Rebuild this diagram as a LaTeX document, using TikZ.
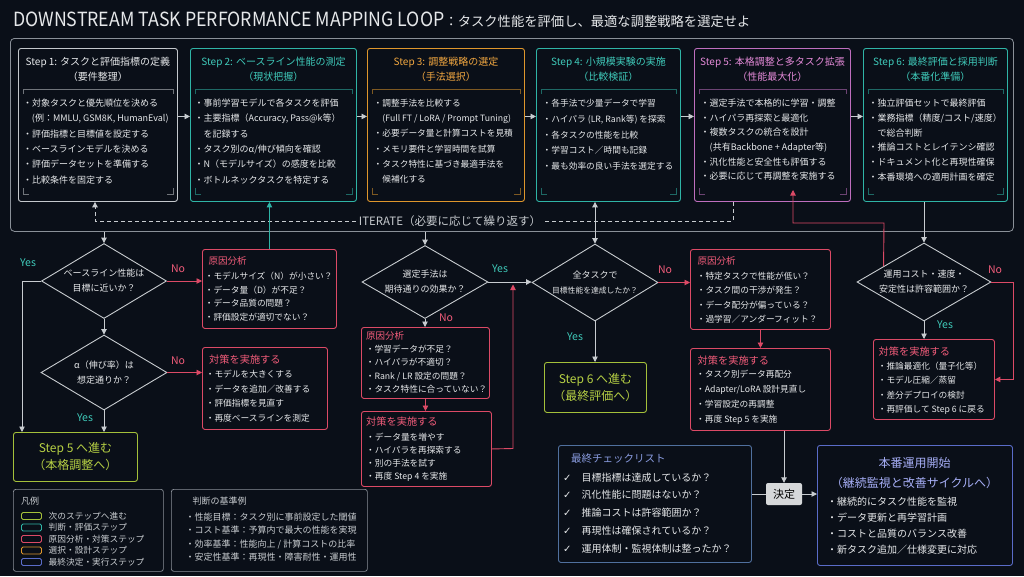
\documentclass[tikz,border=0pt]{standalone}
\usepackage{fontspec}
\usepackage{graphicx}
\setmainfont{Noto Sans CJK JP}
\newfontfamily\dejavu{DejaVu Sans}
\usetikzlibrary{shapes.geometric,arrows.meta,calc}
\definecolor{bg}{HTML}{0A0F18}
\definecolor{frm}{HTML}{8A9098}
\definecolor{sgray}{HTML}{C4C8CC}
\definecolor{txt}{HTML}{E6E8EA}
\definecolor{ltxt}{HTML}{C8CCD0}
\definecolor{tl}{HTML}{2FB4A6}
\definecolor{tlt}{HTML}{3FCABA}
\definecolor{org}{HTML}{DE962C}
\definecolor{orgt}{HTML}{F0A640}
\definecolor{pk}{HTML}{DC4A66}
\definecolor{pkt}{HTML}{F25C7A}
\definecolor{lav}{HTML}{BE6EBE}
\definecolor{lavt}{HTML}{E48AD8}
\definecolor{grn}{HTML}{A4C03A}
\definecolor{grnt}{HTML}{B6D044}
\definecolor{blu}{HTML}{5A6CC8}
\definecolor{blut}{HTML}{A6AEF6}
\definecolor{chk}{HTML}{50709E}
\definecolor{chkt}{HTML}{8A9CE0}
\definecolor{arrc}{HTML}{C8CCD0}
\definecolor{ktc}{HTML}{D6D8DA}
\newcommand\myfs[2]{\fontsize{#1}{#2}\selectfont}
\newcommand\stepbrk[2]{%
 \draw[#2, line width=0.5pt, opacity=0.55] ($(#1.north west)+(5,46)$) -- ($(#1.north west)+(5,41)$) -- ($(#1.north east)+(-5,41)$) -- ($(#1.north east)+(-5,46)$);
 \draw[#2, line width=0.5pt, opacity=0.55] ($(#1.south west)+(5,-14)$) -- ($(#1.south west)+(5,-8)$) -- ($(#1.south west)+(11,-8)$);
 \draw[#2, line width=0.5pt, opacity=0.55] ($(#1.south east)+(-5,-14)$) -- ($(#1.south east)+(-5,-8)$) -- ($(#1.south east)+(-11,-8)$);
}
\tikzset{
 box/.style={draw, line width=0.9pt, rounded corners=2.5pt, anchor=north west, inner sep=0pt, fill=bg},
 hdr/.style={align=center, inner sep=0pt, font=\myfs{10}{15}},
 body/.style={anchor=north west, align=left, inner sep=0pt, text=txt, font=\myfs{9}{15.3}},
 bbody/.style={anchor=north west, align=left, inner sep=0pt, text=txt},
 bhdr/.style={anchor=west, inner sep=0pt, text=pkt, font=\myfs{9.5}{12}},
 thdr/.style={anchor=west, inner sep=0pt, text=pkt, font=\myfs{10.2}{12}},
 dia/.style={diamond, draw=arrc, line width=0.9pt, inner sep=0pt, fill=bg},
 dtext/.style={align=center, inner sep=0pt, text=txt, font=\myfs{9}{15}},
 ga/.style={draw=arrc, line width=0.9pt, -{Triangle[width=5.5pt,length=5.5pt]}},
 pa/.style={draw=pk, line width=0.9pt, -{Triangle[width=5.5pt,length=5.5pt]}},
 yes/.style={inner sep=0pt, text=tlt, font=\myfs{10.5}{12}},
 no/.style={inner sep=0pt, text=pkt, font=\myfs{10.5}{12}},
 gotext/.style={align=center, inner sep=0pt, text=grnt, font=\myfs{12}{17}},
 lgsw/.style={line width=0.9pt, rounded corners=1.5pt, minimum width=20pt, minimum height=7pt, inner sep=0pt, draw},
 lgtx/.style={anchor=west, inner sep=0pt, text=ltxt, font=\myfs{8.7}{10}},
}
\begin{document}
\begin{tikzpicture}[x=1pt,y=-1pt]
\fill[bg] (0,0) rectangle (1024,576);
\useasboundingbox (0,0) rectangle (1024,576);

% title
\node[anchor=west, inner sep=0pt, text=txt] (title) at (13,20) {\scalebox{0.91}[1]{\myfs{19.5}{22}DOWNSTREAM TASK PERFORMANCE MAPPING LOOP}\myfs{13.3}{22}：タスク性能を評価し、最適な調整戦略を選定せよ};

% outer frame
\node[draw=frm, line width=0.8pt, rounded corners=4pt, anchor=north west, inner sep=0pt, minimum width=1003pt, minimum height=193pt] (frame) at (10,38) {};

% step boxes
\node[box, draw=sgray, minimum width=159pt, minimum height=153pt] (s1) at (18,48) {};
\node[box, draw=tl, minimum width=166pt, minimum height=153pt] (s2) at (190,48) {};
\node[box, draw=org, minimum width=157pt, minimum height=153pt] (s3) at (367,48) {};
\node[box, draw=tl, minimum width=144pt, minimum height=153pt] (s4) at (536,48) {};
\node[box, draw=lav, minimum width=156pt, minimum height=153pt] (s5) at (694,48) {};
\node[box, draw=tl, minimum width=144pt, minimum height=153pt] (s6) at (863,48) {};
\stepbrk{s1}{sgray}
\stepbrk{s2}{tl}
\stepbrk{s3}{org}
\stepbrk{s4}{tl}
\stepbrk{s5}{lav}
\stepbrk{s6}{tl}

\node[hdr, text=txt] (s1h) at ($(s1.north)+(0,21.5)$) {Step 1: タスクと評価指標の定義\\（要件整理）};
\node[hdr, text=tlt] (s2h) at ($(s2.north)+(0,21.5)$) {Step 2: ベースライン性能の測定\\（現状把握）};
\node[hdr, text=orgt] (s3h) at ($(s3.north)+(0,21.5)$) {Step 3: 調整戦略の選定\\（手法選択）};
\node[hdr, text=tlt] (s4h) at ($(s4.north)+(0,21.5)$) {Step 4: 小規模実験の実施\\（比較検証）};
\node[hdr, text=lavt] (s5h) at ($(s5.north)+(0,21.5)$) {Step 5: 本格調整と多タスク拡張\\（性能最大化）};
\node[hdr, text=tlt] (s6h) at ($(s6.north)+(0,21.5)$) {Step 6: 最終評価と採用判断\\（本番化準備）};

\node[body] (s1b) at (22.8,98.8) {・対象タスクと優先順位を決める\\\hspace*{9pt}(例：MMLU, GSM8K, HumanEval)\\・評価指標と目標値を設定する\\・ベースラインモデルを決める\\・評価データセットを準備する\\・比較条件を固定する};
\node[body] (s2b) at (194.5,98.8) {・事前学習モデルで各タスクを評価\\・主要指標（Accuracy, Pass@k等）\\\hspace*{9pt}を記録する\\・タスク別のα/伸び傾向を確認\\・N（モデルサイズ）の感度を比較\\・ボトルネックタスクを特定する};
\node[body, font=\myfs{8.7}{15.3}] (s3b) at (373.5,98.8) {・調整手法を比較する\\\hspace*{8.7pt}(Full FT / LoRA / Prompt Tuning)\\・必要データ量と計算コストを見積\\・メモリ要件と学習時間を試算\\・タスク特性に基づき最適手法を\\\hspace*{8.7pt}候補化する};
\node[body, font=\myfs{8.7}{15.8}] (s4b) at (542.5,98.8) {・各手法で少量データで学習\\・ハイパラ (LR, Rank等) を探索\\・各タスクの性能を比較\\・学習コスト／時間も記録\\・最も効率の良い手法を選定する};
\node[body, font=\myfs{9}{14.6}] (s5b) at (700.5,98.8) {・選定手法で本格的に学習・調整\\・ハイパラ再探索と最適化\\・複数タスクの統合を設計\\\hspace*{9pt}(共有Backbone + Adapter等)\\・汎化性能と安全性も評価する\\・必要に応じて再調整を実施する};
\node[body, font=\myfs{9}{14.8}] (s6b) at (868.5,98.8) {・独立評価セットで最終評価\\・業務指標（精度/コスト/速度）\\\hspace*{9pt}で総合判断\\・推論コストとレイテンシ確認\\・ドキュメント化と再現性確保\\・本番環境への適用計画を確定};

\foreach \a/\b in {s1/s2,s2/s3,s3/s4,s4/s5,s5/s6}
  \draw[ga] ([yshift=8.5pt]\a.east) -- ([yshift=8.5pt]\b.west);

% iterate loop
\node[fill=bg, inner sep=3pt, text=ltxt, font=\myfs{11.5}{14}] (iter) at (450,221) {ITERATE（必要に応じて繰り返す）};
\coordinate (it1) at (733,221);
\coordinate (it2) at (95,221);
\draw[arrc, line width=0.9pt, dash pattern=on 4pt off 3pt] (s5.south -| it1) -- (it1) -- (iter.east);
\draw[arrc, line width=0.9pt, dash pattern=on 4pt off 3pt, -{Triangle[width=5.5pt,length=5.5pt]}] (iter.west) -- (it2) -- (s1.south -| it2);

% diamonds
\node[dia, minimum width=125pt, minimum height=75pt] (d1) at (104,281) {};
\node[dtext] (d1t) at (d1) {ベースライン性能は\\目標に近いか？};
\node[dia, minimum width=126pt, minimum height=75pt] (d2) at (104,372.5) {};
\node[dtext] (d2t) at (d2) {α（伸び率）は\\想定通りか？};
\node[dia, minimum width=126pt, minimum height=73pt] (d3) at (425,282) {};
\node[dtext] (d3t) at (d3) {選定手法は\\期待通りの効果か？};
\node[dia, minimum width=126pt, minimum height=77pt] (d4) at (595,282.5) {};
\node[dtext] (d4t) at (d4) {全タスクで\\{\myfs{7.8}{15}目標性能を達成したか？}};
\node[dia, minimum width=134pt, minimum height=78pt] (d5) at (924,282) {};
\node[dtext] (d5t) at (d5) {運用コスト・速度・\\安定性は許容範囲か？};

% red boxes
\node[box, draw=pk, minimum width=134pt, minimum height=79pt] (b1) at (202,249) {};
\node[bhdr] (b1h) at (208.5,261) {原因分析};
\node[bbody, font=\myfs{8.7}{13.5}] (b1b) at (204.6,271.9) {・モデルサイズ（N）が小さい？\\・データ量（D）が不足？\\・データ品質の問題？\\・評価設定が適切でない？};

\node[box, draw=pk, minimum width=125pt, minimum height=82pt] (b2) at (202,347) {};
\node[thdr] (b2h) at (209,360) {対策を実施する};
\node[bbody, font=\myfs{8.7}{14.6}] (b2b) at (205.6,369.9) {・モデルを大きくする\\・データを追加／改善する\\・評価指標を見直す\\・再度ベースラインを測定};

\node[box, draw=pk, minimum width=128pt, minimum height=71pt] (b3) at (361,327) {};
\node[bhdr] (b3h) at (366,336) {原因分析};
\node[bbody, font=\myfs{8.7}{13.3}] (b3b) at (365.6,344.9) {・学習データが不足？\\・ハイパラが不適切？\\・Rank / LR 設定の問題？\\・タスク特性に合っていない？};

\node[box, draw=pk, minimum width=130pt, minimum height=75pt] (b4) at (361,411) {};
\node[thdr] (b4h) at (366,422) {対策を実施する};
\node[bbody, font=\myfs{8.7}{13}] (b4b) at (366,432.9) {・データ量を増やす\\・ハイパラを再探索する\\・別の手法を試す\\・再度 Step 4 を実施};

\node[box, draw=pk, minimum width=140pt, minimum height=80pt] (b5) at (690,249) {};
\node[bhdr] (b5h) at (697.5,261) {原因分析};
\node[bbody, font=\myfs{8.7}{14.3}] (b5b) at (696.6,271.9) {・特定タスクで性能が低い？\\・タスク間の干渉が発生？\\・データ配分が偏っている？\\・過学習／アンダーフィット？};

\node[box, draw=pk, minimum width=140pt, minimum height=82pt] (b6) at (690,348) {};
\node[thdr] (b6h) at (697.5,361) {対策を実施する};
\node[bbody, font=\myfs{8.7}{15}] (b6b) at (696,369.9) {・タスク別データ再配分\\・Adapter/LoRA 設計見直し\\・学習設定の再調整\\・再度 Step 5 を実施};

\node[box, draw=pk, minimum width=121pt, minimum height=80pt] (b7) at (873,339) {};
\node[thdr] (b7h) at (878.5,352) {対策を実施する};
\node[bbody, font=\myfs{8.7}{14.3}] (b7b) at (877.6,361.9) {・推論最適化（量子化等）\\・モデル圧縮／蒸留\\・差分デプロイの検討\\・再評価して Step 6 に戻る};

% go boxes
\node[box, draw=grn, minimum width=124pt, minimum height=49pt] (g1) at (13,432) {};
\node[gotext] (g1t) at (g1.center) {Step 5 へ進む\\（本格調整へ）};
\node[box, draw=grn, minimum width=102pt, minimum height=50pt] (g2) at (544,362) {};
\node[gotext] (g2t) at (g2.center) {Step 6 へ進む\\（最終評価へ）};

% connectors
\draw[ga] (frame.south -| d1.north) -- (d1.north);
\draw[ga] (frame.south -| d3.north) -- (d3.north);
\draw[draw=arrc, line width=0.9pt, {Triangle[width=5.5pt,length=5.5pt]}-{Triangle[width=5.5pt,length=5.5pt]}] (s4.south -| d4.north) -- (d4.north);
\draw[ga] (s6.south -| d5.north) -- (d5.north);

\draw[pa] (d1.east) -- (d1.east -| b1.west);
\draw[draw=tl, line width=0.9pt, -{Triangle[width=5.5pt,length=5.5pt]}] (b1.north) -- (b1.north |- s2.south);
\coordinate (c22) at (22,281);
\draw[ga] (d1.west) -- (c22) -- (c22 |- g1.north);
\draw[ga] (d1.south) -- (d2.north);
\draw[pa] (d2.east) -- (d2.east -| b2.west);
\draw[ga] (d2.south) -- (d2.south |- g1.north);

\draw[ga] (d3.east) -- (d3.east -| d4.west);
\draw[ga] (d3.south) -- (d3.south |- b3.north);
\draw[pa] (b3.south) -- (b3.south |- b4.north);
\coordinate (r4) at (513,448.5);
\coordinate (r4t) at (513,284.5);
\draw[pa] (b4.east) -- (r4) -- (r4t);

\draw[pa] (d4.east) -- (d4.east -| b5.west);
\draw[ga] (d4.south) -- (d4.south |- g2.north);
\draw[pa] (b5.south) -- (b5.south |- b6.north);

\coordinate (r5a) at (884,223);
\coordinate (r5b) at (793,223);
\coordinate (r5c) at (793,190);
\draw[pa] ($(d5.west)!0.4!(d5.north)$) -- (r5a) -- (r5b) -- (r5c);
\coordinate (r7) at (1013,282);
\draw[pa] (d5.east) -- (r7) |- (b7.east);
\draw[ga] (d5.south) -- (d5.south |- b7.north);

% labels
\node[yes] (y1) at (28,263) {Yes};
\node[no] (n1) at (178,269) {No};
\node[no] (n2) at (178,361) {No};
\node[yes] (y2) at (85,418) {Yes};
\node[yes] (y3) at (500,269) {Yes};
\node[no] (n3) at (446,318) {No};
\node[no] (n4) at (665,270) {No};
\node[yes] (y4) at (575,337) {Yes};
\node[no] (n5) at (995,270) {No};
\node[yes] (y5) at (945,325) {Yes};

% checklist
\node[box, draw=chk, minimum width=193pt, minimum height=117pt] (ck) at (558,445) {};
\node[anchor=west, inner sep=0pt, text=chkt, font=\myfs{10.5}{12}] (ckh) at (571,459) {最終チェックリスト};
\node[bbody, font=\myfs{10}{17.75}] (ckb) at (563,472.5) {{\dejavu ✓}\hspace{10pt}目標指標は達成しているか？\\{\dejavu ✓}\hspace{10pt}汎化性能に問題はないか？\\{\dejavu ✓}\hspace{10pt}推論コストは許容範囲か？\\{\dejavu ✓}\hspace{10pt}再現性は確保されているか？\\{\dejavu ✓}\hspace{10pt}運用体制・監視体制は整ったか？};

% decision
\node[fill=ktc, rounded corners=2pt, minimum width=36pt, minimum height=22pt, inner sep=0pt, text=black, font=\myfs{11}{13}] (kd) at (784,494) {決定};
\draw[draw=arrc, line width=0.9pt] (kd.west -| ck.east) -- (kd.west);
\draw[ga] (b6.south -| kd.north) -- (kd.north);

% production
\node[box, draw=blu, minimum width=195pt, minimum height=120pt] (pr) at (817,445) {};
\node[align=center, inner sep=0pt, text=blut, font=\myfs{12}{20}] (prh) at (914.5,473) {本番運用開始\\（継続監視と改善サイクルへ）};
\node[bbody, font=\myfs{10}{15.7}] (prb) at (827,497.3) {・継続的にタスク性能を監視\\・データ更新と再学習計画\\・コストと品質のバランス改善\\・新タスク追加／仕様変更に対応};
\draw[ga] (kd.east) -- (kd.east -| pr.west);

% legend
\node[box, draw=frm, line width=0.7pt, minimum width=150pt, minimum height=82pt] (lg) at (13,489) {};
\node[anchor=west, inner sep=0pt, text=ltxt, font=\myfs{9}{11}] (lgh) at (21,501) {凡例};
\node[lgsw, draw=grn] (lw1) at (31.5,516) {};
\node[lgsw, draw=tl] (lw2) at (31.5,527.5) {};
\node[lgsw, draw=pk] (lw3) at (31.5,539) {};
\node[lgsw, draw=org] (lw4) at (31.5,550.5) {};
\node[lgsw, draw=blu] (lw5) at (31.5,562) {};
\node[lgtx] (lt1) at (48.5,516) {次のステップへ進む};
\node[lgtx] (lt2) at (48.5,527.5) {判断・評価ステップ};
\node[lgtx] (lt3) at (48.5,539) {原因分析・対策ステップ};
\node[lgtx] (lt4) at (48.5,550.5) {選択・設計ステップ};
\node[lgtx] (lt5) at (48.5,562) {最終決定・実行ステップ};

% criteria
\node[box, draw=frm, line width=0.7pt, minimum width=196pt, minimum height=82pt] (cr) at (171,489) {};
\node[anchor=west, inner sep=0pt, text=ltxt, font=\myfs{9}{11}] (crh) at (192.5,501) {判断の基準例};
\node[bbody, text=ltxt, font=\myfs{9}{13.3}] (crb) at (185.5,512.8) {・性能目標：タスク別に事前設定した閾値\\・コスト基準：予算内で最大の性能を実現\\・効率基準：性能向上 / 計算コストの比率\\・安定性基準：再現性・障害耐性・運用性};

\end{tikzpicture}
\end{document}
